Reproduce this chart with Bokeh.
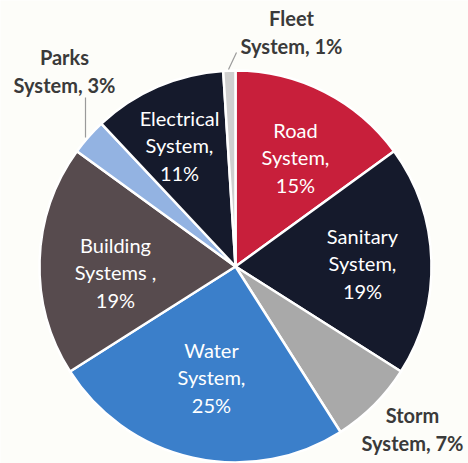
import math
from bokeh.plotting import figure
from bokeh.models import Range1d, ColumnDataSource
from bokeh.core.properties import value
from bokeh.embed import file_html
from bokeh.resources import INLINE

# ---- data (clockwise from 12 o'clock) ----
categories = ["Road System", "Sanitary System", "Storm System", "Water System",
              "Building Systems", "Parks System", "Electrical System", "Fleet System"]
shares = [15, 19, 7, 25, 19, 3, 11, 1]
label_texts = ["Road\nSystem,\n15%", "Sanitary\nSystem,\n19%", "Storm\nSystem, 7%",
               "Water\nSystem,\n25%", "Building\nSystems ,\n19%", "Parks\nSystem, 3%",
               "Electrical\nSystem,\n11%", "Fleet\nSystem, 1%"]
colors = ["#c81f3b", "#151a2c", "#a9a9a9", "#3b7fca", "#574b4e", "#93b3e2", "#151a2c", "#cfcfcf"]
outside = [False, False, True, False, False, True, False, True]

W, H = 468, 463
CX, CY, R = 235, 266, 196  # pixel geometry (y from top)

def fy(ypix):
    return H - ypix

total = sum(shares)
starts, ends = [], []
acc = 0
for s in shares:
    starts.append(math.pi / 2 - 2 * math.pi * acc / total)
    acc += s
    ends.append(math.pi / 2 - 2 * math.pi * acc / total)

p = figure(width=W, height=H, output_backend="svg", toolbar_location=None,
           x_range=Range1d(0, W), y_range=Range1d(0, H), min_border=0)
p.axis.visible = False
p.grid.visible = False
p.outline_line_color = None
p.background_fill_color = "#fdfdf9"
p.border_fill_color = "#fdfdf9"

src = ColumnDataSource(dict(start=starts, end=ends, color=colors, cat=categories))
p.wedge(x=CX, y=fy(CY), radius=R, radius_units="screen", start_angle="start", end_angle="end",
        direction="clock", fill_color="color", line_color="white", line_width=2.5, source=src)

# leader lines
p.segment(x0=[228, 85], y0=[fy(69), fy(137)], x1=[236, 85], y1=[fy(52), fy(97)],
          line_color="#9a9a9a", line_width=1.2)

# label positions (centre of first line, pixel coords)
label_pos = [(295, 130), (362, 236), (412, 415), (211, 350),
             (115, 245), (64, 57), (179, 118), (291, 18)]

for txt, (lx, ly), out in zip(label_texts, label_pos, outside):
    nlines = txt.count("\n") + 1
    lh = 27
    cy = ly + (nlines - 1) * lh / 2
    p.text(x=[lx], y=[fy(cy)], text=[txt], text_align="center", text_baseline="middle",
           text_font=value("Lato"), text_font_size="20px",
           text_font_style="bold" if out else "normal",
           text_color="#3a3a3a" if out else "white",
           text_line_height=1.13)

open("out.html", "w").write(file_html(p, INLINE))
